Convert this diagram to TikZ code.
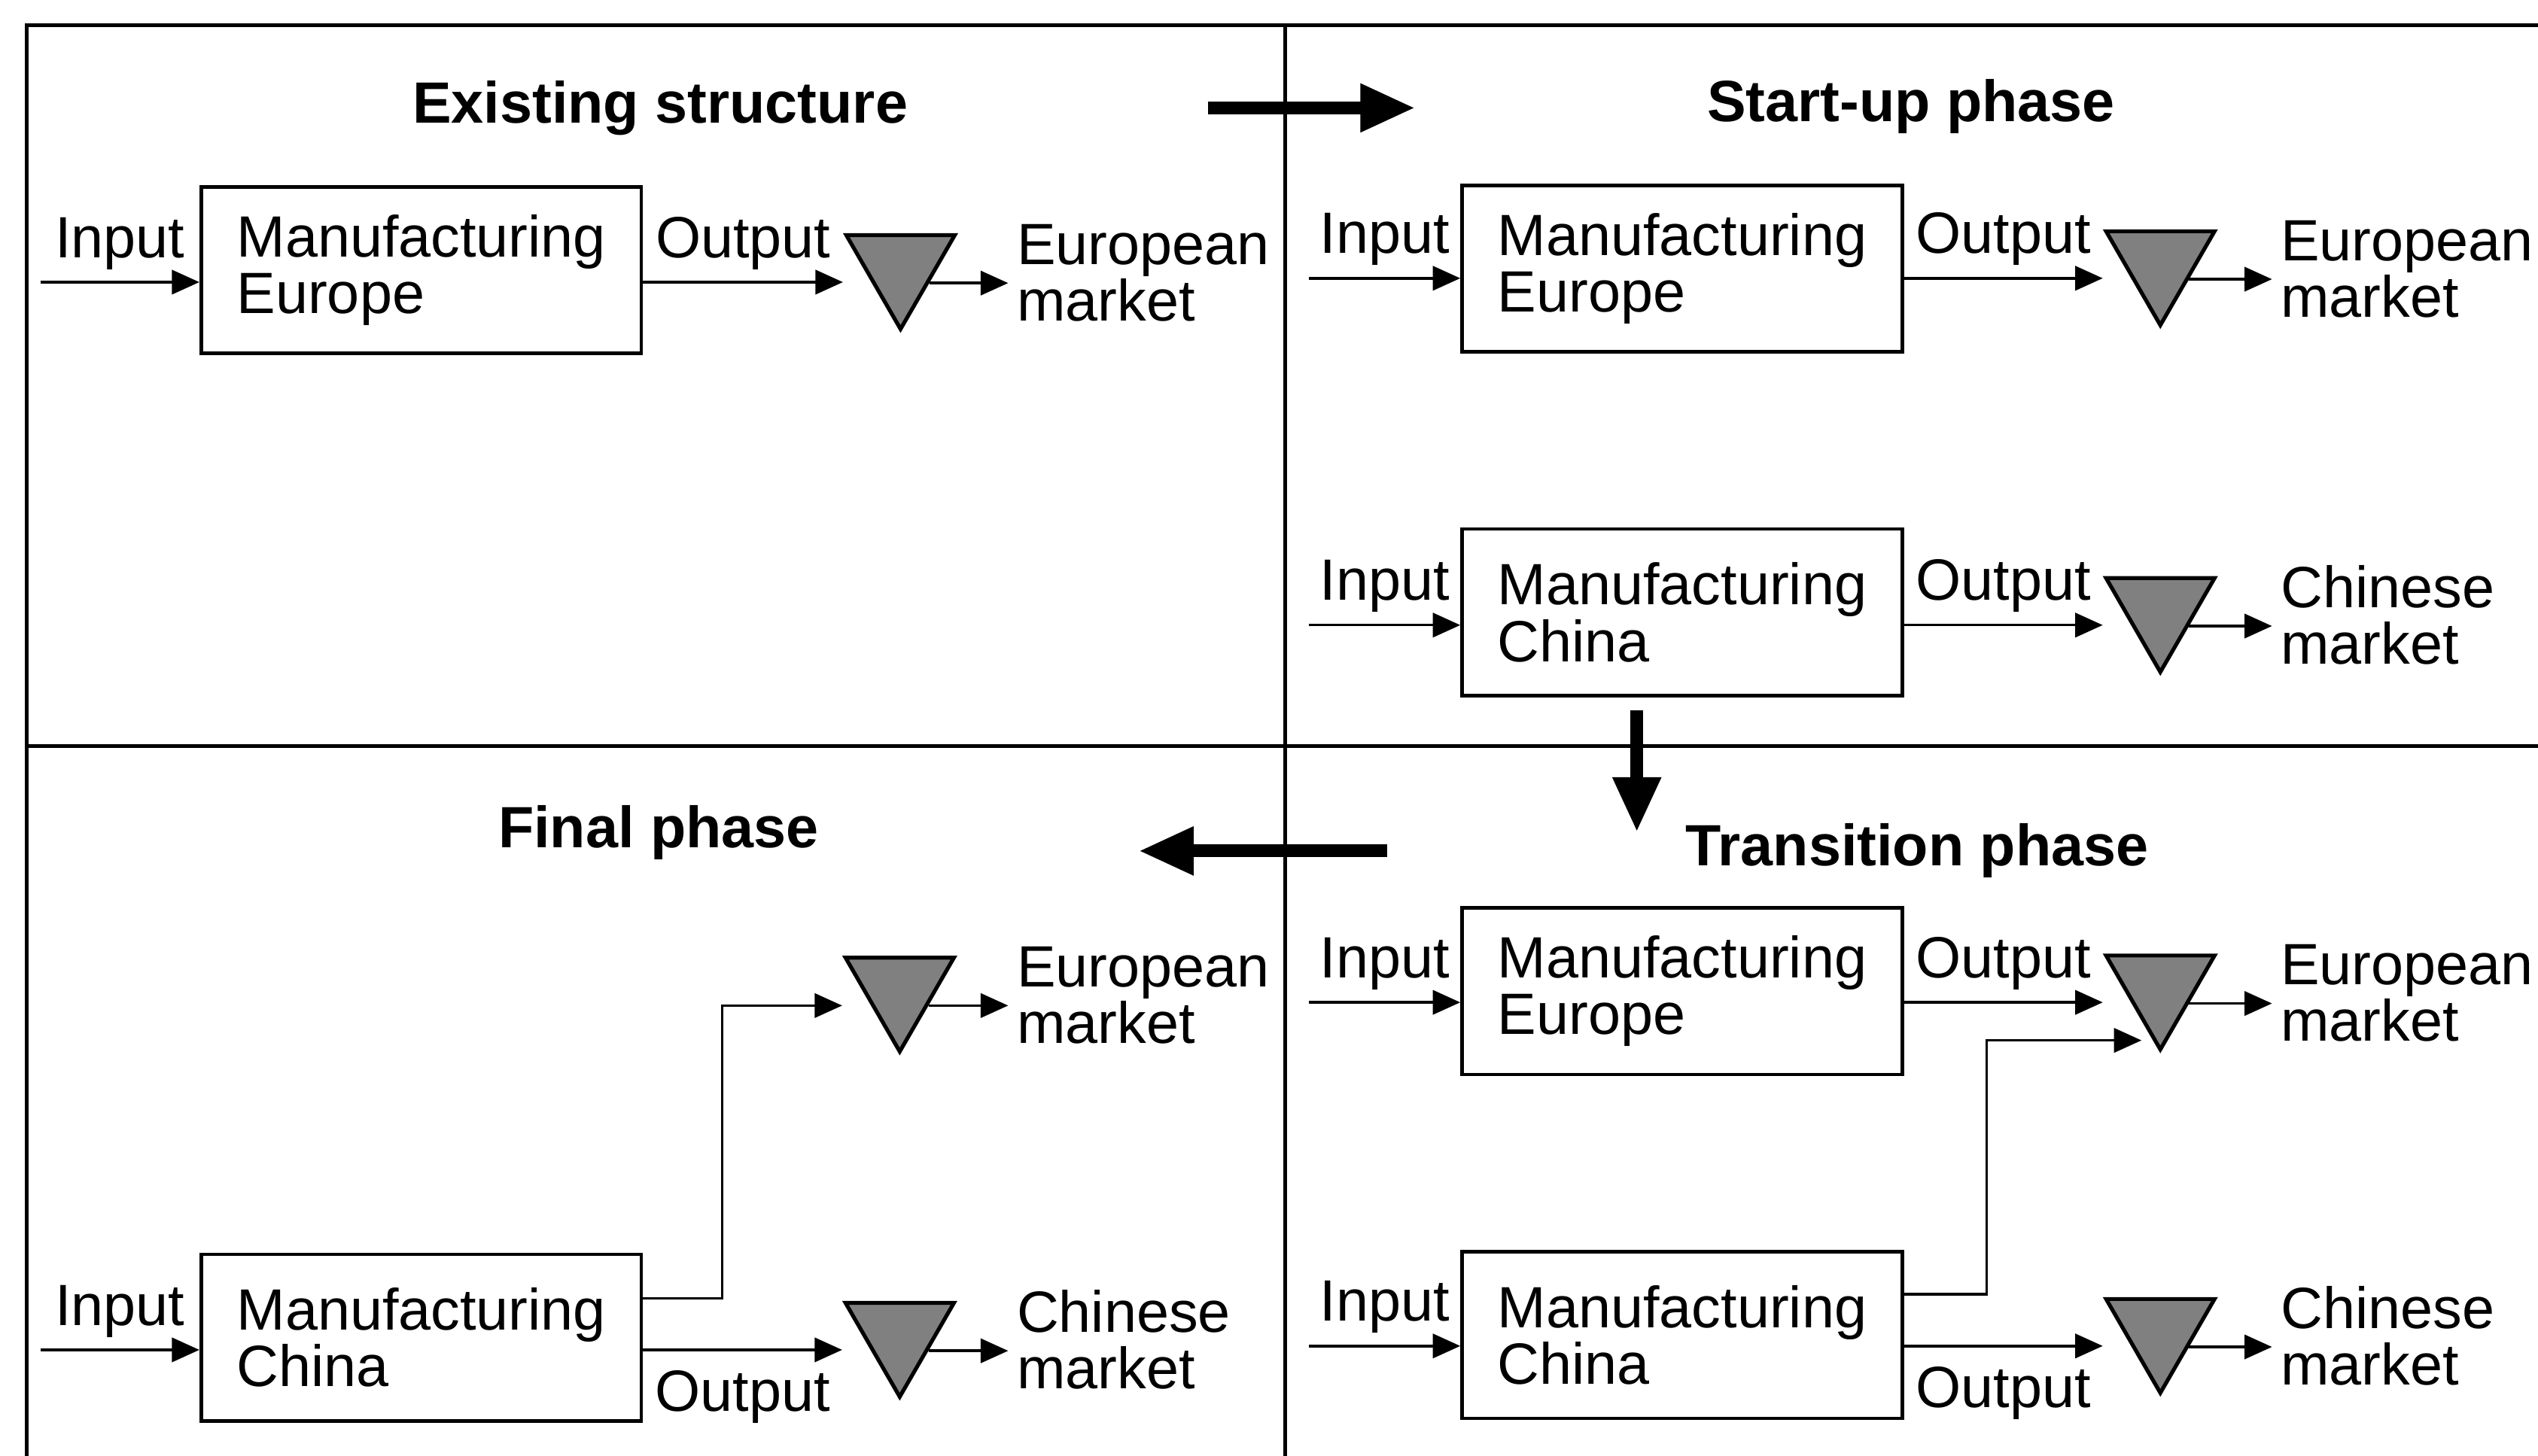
\documentclass[tikz,border=0pt]{standalone}
\usepackage{fontspec}
\setmainfont{Liberation Sans}
\usetikzlibrary{shapes.geometric,arrows.meta,calc}
\tikzset{
	plant/.style={draw,line width=1.1pt,rectangle,minimum height=51.5pt,text width=114pt,inner xsep=11pt,align=left},
	stock/.style={draw,line width=1.2pt,fill=black!50,regular polygon,regular polygon sides=3,shape border rotate=180,minimum size=38.7pt,inner sep=0pt},
	market/.style={anchor=base west,align=left,inner sep=2.5pt},
	phase/.style={anchor=base,font=\bfseries\fontsize{18}{18}\selectfont},
	flow/.style={line width=0.8pt,-{Triangle[length=8.5pt,width=7.5pt]}},
	move/.style={line width=4pt,-{Triangle[length=17pt,width=14pt]}},
	lbl/.style={inner sep=1.5pt},
	frame/.style={line width=1.2pt}
}
\begin{document}
\begin{tikzpicture}[x=0.5pt,y=-0.5pt,font=\fontsize{18}{17.5}\selectfont]
	\useasboundingbox (0,0) rectangle (1568.4,900);
	\draw[frame](16.5,900) -- (16.5,15.5) -- (1568.4,15.5);
	\draw[frame](794,15.5) -- (794,900);
	\draw[frame](16.5,461) -- (1568.4,461);
	\node[phase](phExist) at (408,76){Existing structure};
	\node[phase](phStart) at (1181,75){Start-up phase};
	\node[phase](phTrans) at (1184.7,535){Transition phase};
	\node[phase](phFinal) at (407,524){Final phase};
	\node[plant](mfgE1) at (260.3,167){Manufacturing\\Europe};
	\node[plant](mfgE2) at (1039.5,166){Manufacturing\\Europe};
	\node[plant](mfgC2) at (1039.5,378.5){Manufacturing\\China};
	\node[plant](mfgE3) at (1039.5,612.7){Manufacturing\\Europe};
	\node[plant](mfgC3) at (1039.5,825.3){Manufacturing\\China};
	\node[plant](mfgC4) at (260.3,826.8){Manufacturing\\China};
	\node[stock](stE1) at (556.5,164.7){};
	\node[stock](stE2) at (1335,162.3){};
	\node[stock](stC2) at (1335,376.7){};
	\node[stock](stE3) at (1335,610){};
	\node[stock](stC3) at (1335,822.3){};
	\node[stock](stE4) at (556,611.3){};
	\node[stock](stC4) at (556,824.7){};
	\node[market](mkE1) at (623,198.4){European\\market};
	\node[market](mkE2) at (1404,196){European\\market};
	\node[market](mkC2) at (1404,410.4){Chinese\\market};
	\node[market](mkE3) at (1404,643.6){European\\market};
	\node[market](mkC3) at (1404,856){Chinese\\market};
	\node[market](mkE4) at (623,645){European\\market};
	\node[market](mkC4) at (623,858.4){Chinese\\market};
	\coordinate (inE1) at (25,174.4);
	\coordinate (inE2) at (809,172);
	\coordinate (inC2) at (809,386.4);
	\coordinate (inE3) at (809,619.6);
	\coordinate (inC3) at (809,832);
	\coordinate (inC4) at (25,834.4);
	\coordinate (jogC3) at (1227.6,720);
	\coordinate (jogC4) at (446.4,720);
	\coordinate (joinE3) at ($(stE3.side 3)!0.74!(stE3.corner 1)$);
	\coordinate (goA) at (746.5,66.7);
	\coordinate (goB) at (874.6,66.7);
	\coordinate (goC) at (1011.5,439);
	\coordinate (goD) at (1011.5,514.4);
	\coordinate (goE) at (857,526);
	\coordinate (goF) at (703.6,526);
	\draw[flow](inE1) -- node[lbl,above=2pt](inTxtE1){Input} (mfgE1.west |- inE1);
	\draw[flow](mfgE1.east |- inE1) -- node[lbl,above=2pt](outTxtE1){Output} (stE1.corner 3 |- inE1);
	\draw[flow](stE1.side 1) -- (mkE1.west |- stE1.side 1);
	\draw[flow](inE2) -- node[lbl,above=2pt](inTxtE2){Input} (mfgE2.west |- inE2);
	\draw[flow](mfgE2.east |- inE2) -- node[lbl,above=2pt](outTxtE2){Output} (stE2.corner 3 |- inE2);
	\draw[flow](stE2.side 1) -- (mkE2.west |- stE2.side 1);
	\draw[flow](inC2) -- node[lbl,above=2pt](inTxtC2){Input} (mfgC2.west |- inC2);
	\draw[flow](mfgC2.east |- inC2) -- node[lbl,above=2pt](outTxtC2){Output} (stC2.corner 3 |- inC2);
	\draw[flow](stC2.side 1) -- (mkC2.west |- stC2.side 1);
	\draw[flow](inE3) -- node[lbl,above=2pt](inTxtE3){Input} (mfgE3.west |- inE3);
	\draw[flow](mfgE3.east |- inE3) -- node[lbl,above=2pt](outTxtE3){Output} (stE3.corner 3 |- inE3);
	\draw[flow](stE3.side 1) -- (mkE3.west |- stE3.side 1);
	\draw[flow](inC3) -- node[lbl,above=2pt](inTxtC3){Input} (mfgC3.west |- inC3);
	\draw[flow](mfgC3.east |- inC3) -- node[lbl,below=4.5pt](outTxtC3){Output} (stC3.corner 3 |- inC3);
	\draw[flow](stC3.side 1) -- (mkC3.west |- stC3.side 1);
	\draw[flow,shorten >=3.5pt]([yshift=-13.7pt]mfgC3.north east) -| (jogC3) |- (joinE3);
	\draw[flow](inC4) -- node[lbl,above=2pt](inTxtC4){Input} (mfgC4.west |- inC4);
	\draw[flow](mfgC4.east |- inC4) -- node[lbl,below=4.5pt](outTxtC4){Output} (stC4.corner 3 |- inC4);
	\draw[flow](stC4.side 1) -- (mkC4.west |- stC4.side 1);
	\draw[flow]([yshift=-14.2pt]mfgC4.north east) -| (jogC4) |- (stE4.corner 3 |- stE4.side 3);
	\draw[flow](stE4.side 1) -- (mkE4.west |- stE4.side 1);
	\draw[move](goA) -- (goB);
	\draw[move](goC) -- (goD);
	\draw[move](goE) -- (goF);
\end{tikzpicture}
\end{document}
